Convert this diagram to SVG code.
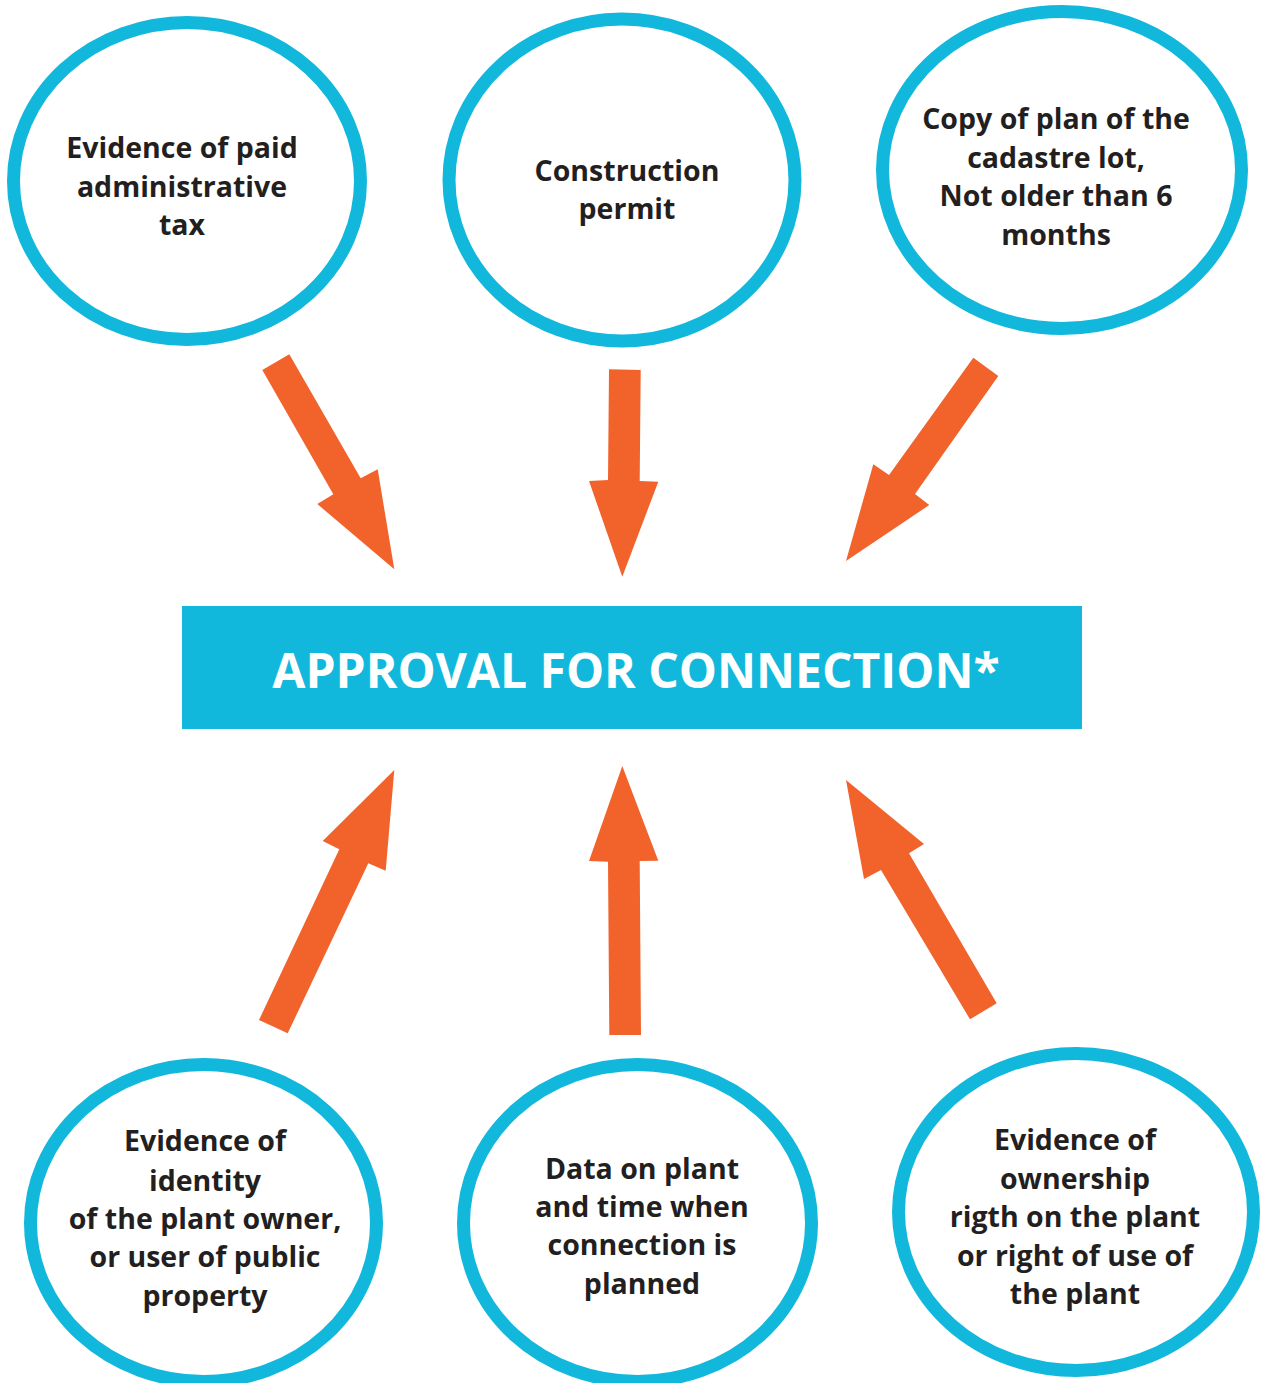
<svg xmlns="http://www.w3.org/2000/svg" width="1261" height="1383" viewBox="0 0 1261 1383">
<style>
.ring{fill:#fff;stroke:#12b8dc;stroke-width:13}
.lbl{font-family:"Open Sans",Lato,"Liberation Sans",sans-serif;font-weight:bold;font-size:28.5px;fill:#231f20;text-anchor:middle}
.arrow{fill:#f2632c}
.title{font-family:"Open Sans",Lato,"Liberation Sans",sans-serif;font-weight:bold;font-size:48px;fill:#fff;text-anchor:middle}
</style>
<rect width="1261" height="1383" fill="#fff"/>
<g id="node-tax">
<ellipse class="ring" cx="187" cy="181" rx="173.5" ry="158.5"/>
<text class="lbl" x="182"><tspan x="182" y="158">Evidence of paid</tspan><tspan x="182" y="197">administrative</tspan><tspan x="182" y="235">tax</tspan></text>
</g>
<g id="node-permit">
<ellipse class="ring" cx="622" cy="180" rx="173" ry="161"/>
<text class="lbl"><tspan x="627" y="181">Construction</tspan><tspan x="627" y="219">permit</tspan></text>
</g>
<g id="node-cadastre">
<ellipse class="ring" cx="1062" cy="170" rx="179.5" ry="158.5"/>
<text class="lbl"><tspan x="1056" y="129">Copy of plan of the</tspan><tspan x="1056" y="168">cadastre lot,</tspan><tspan x="1056" y="206">Not older than 6</tspan><tspan x="1056" y="245">months</tspan></text>
</g>
<g id="node-approval">
<rect x="182" y="606" width="900" height="123" fill="#12b8dc"/>
<text class="title" x="636" y="688">APPROVAL FOR CONNECTION*</text>
</g>
<g id="node-identity">
<ellipse class="ring" cx="203.5" cy="1223" rx="173" ry="158.5"/>
<text class="lbl"><tspan x="205" y="1151">Evidence of</tspan><tspan x="205" y="1191">identity</tspan><tspan x="205" y="1229">of the plant owner,</tspan><tspan x="205" y="1267">or user of public</tspan><tspan x="205" y="1306">property</tspan></text>
</g>
<g id="node-data">
<ellipse class="ring" cx="637.5" cy="1223" rx="174" ry="158.5"/>
<text class="lbl"><tspan x="642" y="1179">Data on plant</tspan><tspan x="642" y="1217">and time when</tspan><tspan x="642" y="1255">connection is</tspan><tspan x="642" y="1294">planned</tspan></text>
</g>
<g id="node-ownership">
<ellipse class="ring" cx="1076" cy="1212" rx="177.5" ry="158.5"/>
<text class="lbl"><tspan x="1075" y="1150">Evidence of</tspan><tspan x="1075" y="1189">ownership</tspan><tspan x="1075" y="1227">rigth on the plant</tspan><tspan x="1075" y="1266">or right of use of</tspan><tspan x="1075" y="1304">the plant</tspan></text>
</g>
<g id="connectors">
<polygon class="arrow" points="262.3,370 289.3,354.3 360.7,478.3 377.7,469.3 394.3,569.3 317.3,504 333.3,494.3"/>
<polygon class="arrow" points="609,369.3 640.7,370 639.7,481 658.3,481.7 622.3,576.7 589,481 608,480"/>
<polygon class="arrow" points="973.3,357.7 998.3,376 915,494 929.3,505 846,561 873.3,464.3 889,475"/>
<polygon class="arrow" points="394.3,770 385.7,870.7 368.3,863.3 287.7,1033.3 259,1020 339.3,849.3 322.7,841"/>
<polygon class="arrow" points="622.3,766 658.3,860.7 639.7,861 641,1035 609.3,1035 608,861.7 589,861"/>
<polygon class="arrow" points="846,780 924,844 909,853.3 996.7,1003.3 970,1019.3 881,870 864,879"/>
</g>
</svg>
